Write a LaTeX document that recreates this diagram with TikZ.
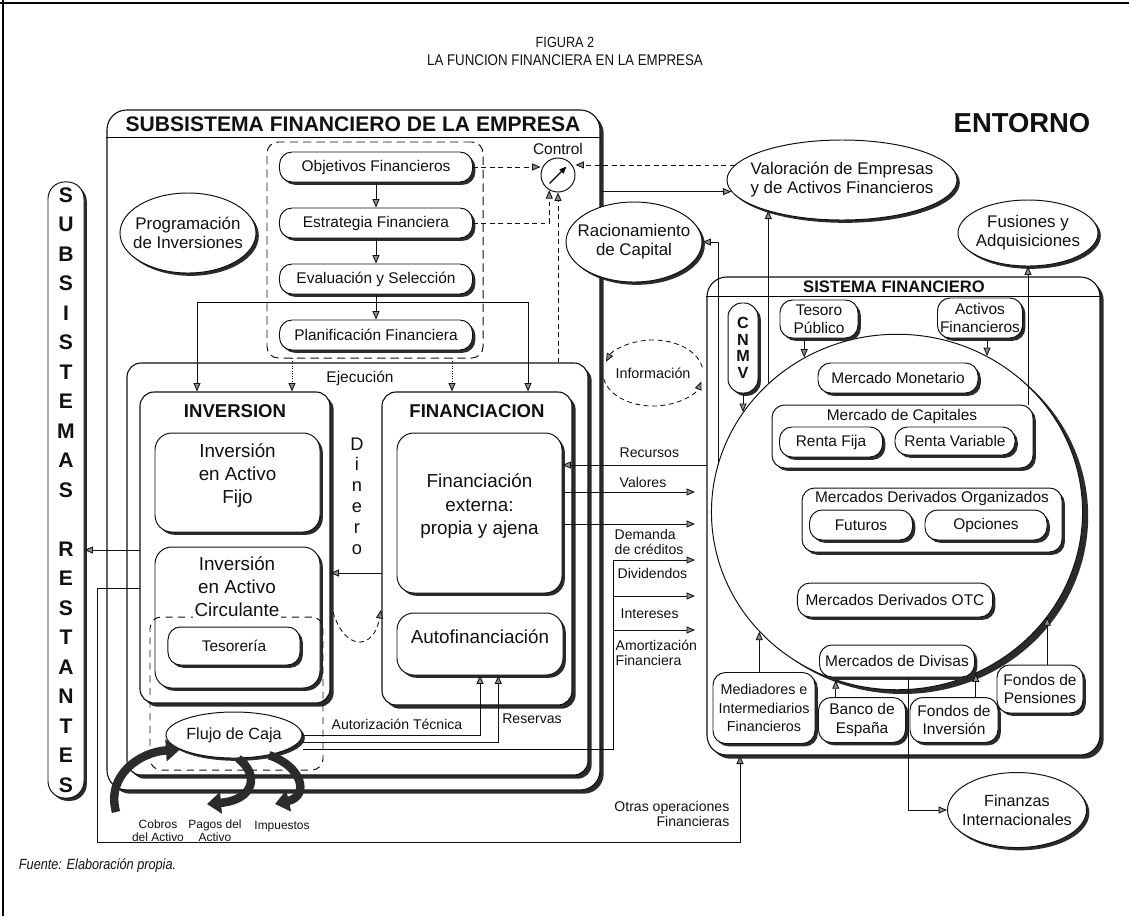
\documentclass[tikz,border=0pt]{standalone}
\usepackage{fontspec}
\setmainfont{Liberation Sans}
\newfontfamily\condfont[FakeStretch=0.86]{Liberation Sans}
\usepackage{tikz}
\usetikzlibrary{arrows.meta,shapes.geometric,positioning,fit,shadows,calc}
\definecolor{ink}{HTML}{111111}
\definecolor{shade}{HTML}{2B2B2B}
\definecolor{tipfill}{HTML}{8C8C8C}
\newcommand{\txtnorm}{\fontsize{11}{13}\selectfont}
\newcommand{\txtbig}{\fontsize{13.4}{16.4}\selectfont}
\newcommand{\txtoval}{\fontsize{12}{13.5}\selectfont}
\newcommand{\txtlbl}{\fontsize{10}{10.8}\selectfont}
\newcommand{\txtsmall}{\fontsize{8.5}{9}\selectfont}
\newcommand{\txtdin}{\fontsize{13}{14.8}\selectfont}
\newcommand{\txtsub}{\fontsize{15}{20.98}\selectfont}
\newcommand{\txtcnmv}{\fontsize{11.5}{11.8}\selectfont}
\newcommand{\txtmed}{\fontsize{10.2}{13}\selectfont}
\newcommand{\txtsf}{\fontsize{11.8}{13}\selectfont}
\newcommand{\txtinfo}{\fontsize{10.2}{12}\selectfont}
\tikzset{
  box_frame/.style={draw=ink,line width=0.8pt,fill=white,rounded corners=10pt,inner sep=0pt},
  frame_sh/.style={drop shadow={shadow xshift=2.6pt,shadow yshift=-2.6pt,fill=shade,opacity=1}},
  node_sh/.style={drop shadow={shadow xshift=2pt,shadow yshift=-2pt,fill=shade,opacity=1}},
  node_box/.style={draw=ink,line width=0.7pt,fill=white,rounded corners=9pt,
    align=center,font=\txtnorm,inner sep=1pt,node_sh},
  node_oval/.style={ellipse,draw=ink,line width=0.7pt,fill=white,align=center,
    font=\txtoval,inner xsep=-10pt,inner ysep=0pt,node_sh},
  dash_frame/.style={draw=ink,line width=0.7pt,dash pattern=on 6pt off 3.5pt,
    rounded corners=8pt,inner sep=0pt},
  title_txt/.style={font=\bfseries\fontsize{13.2}{15}\selectfont},
  lbl/.style={font=\txtlbl,inner sep=1pt},
  arr/.style={-{Triangle[length=6pt,width=5pt,fill=tipfill]},draw=ink,line width=0.6pt},
  arr_dash/.style={arr,dash pattern=on 3.5pt off 2.5pt},
  arr_dot/.style={arr,dash pattern=on 0.6pt off 1.2pt},
  fat_arr/.style={-{Triangle[length=10pt,width=15pt]},draw=shade,line width=6pt},
}
\begin{document}
\begin{tikzpicture}[x=0.025cm,y=-0.025cm,every node/.style={text=ink}]
\useasboundingbox (0,0) rectangle (1129,916);

% page rules and titles
\draw[line width=1.2pt] (0,3) -- (1129,3);
\draw[line width=0.8pt] (3,0) -- (3,916);
\node[font=\condfont\fontsize{10.5}{12}\selectfont] (fig) at (565,42) {FIGURA 2};
\node[font=\condfont\fontsize{11}{13}\selectfont] (tit) at (565,60) {LA FUNCION FINANCIERA EN LA EMPRESA};
\node[font=\condfont\itshape\fontsize{10.5}{12}\selectfont,anchor=west] (src) at (14,866) {Fuente: Elaboración propia.};
\node[font=\bfseries\fontsize{19.5}{22}\selectfont] (ent) at (1022,123) {ENTORNO};

% subsistema financiero
\node[box_frame,frame_sh,rounded corners=14pt,fit={(107,110) (600,790)}] (sub) {};
\draw[line width=0.8pt] ([yshift=-0.7cm]sub.north west) -- ([yshift=-0.7cm]sub.north east);
\node[font=\bfseries\fontsize{15}{17}\selectfont] (subt) at (353,124) {SUBSISTEMA FINANCIERO DE LA EMPRESA};

\node[dash_frame,fit={(267,142) (483,358)}] (plan) {};
\node[node_box,minimum width=4.825cm,minimum height=0.75cm] (obj) at (376,167) {Objetivos Financieros};
\node[node_box,minimum width=4.825cm,minimum height=0.75cm,below=0.625cm of obj] (est) {Estrategia Financiera};
\node[node_box,minimum width=4.825cm,minimum height=0.75cm,below=0.625cm of est] (eva) {Evaluación y Selección};
\node[node_box,minimum width=4.825cm,minimum height=0.75cm,below=0.625cm of eva] (pla) {Planificación Financiera};
\node[node_oval,minimum width=3.4cm,minimum height=2cm] (prog) at (188,233) {Programación\\de Inversiones};
\node[circle,draw=ink,line width=0.7pt,fill=white,minimum size=0.85cm,inner sep=0pt] (ctrl) at (558,175) {};
\node[font=\txtnorm] (ctrlt) at (558,149) {Control};

% ejecucion
\node[box_frame,frame_sh,fit={(127,363) (588,775)}] (eje) {};
\node[font=\txtnorm] (ejet) at (360,378) {Ejecución};
\node[box_frame,frame_sh,fit={(140,392) (330,703)}] (inv) {};
\node[title_txt] (invt) at (235,411) {INVERSION};
\node[box_frame,frame_sh,fit={(382,392) (572,705)}] (fin) {};
\node[title_txt] (fint) at (477,411) {FINANCIACION};

\node[node_box,inner sep=0pt,rounded corners=12pt,font=\txtbig,fit={(155,433) (320,532)}] (fijo) {Inversión\\en Activo\\Fijo};
\node[node_box,inner sep=0pt,rounded corners=12pt,fit={(155,547) (320,688)}] (circ) {};
\node[node_box,minimum width=3.3cm,minimum height=0.95cm] (teso) at (234,646) {Tesorería};
\node[dash_frame,dash pattern=on 5pt off 4pt,fit={(150,617) (323,770)}] (tesf) {};
\node[font=\txtbig,align=center,fill=white,inner sep=1pt] (circt) at (237,587) {Inversión\\en Activo\\Circulante};
\node[node_box,inner sep=0pt,rounded corners=12pt,font=\txtbig,fit={(397,433) (562,593)}] (fext) {Financiación\\externa:\\propia y ajena};
\node[node_box,inner sep=0pt,rounded corners=12pt,font=\txtbig,fit={(397,613) (563,675)}] (aut) {Autofinanciación};
\node[node_oval,font=\fontsize{11.5}{13}\selectfont,minimum width=3.4cm,minimum height=1.15cm] (flu) at (234,735) {Flujo de Caja};
\node[font=\txtdin,align=center] (din) at (357,496) {D\\i\\n\\e\\r\\o};

% subsistemas restantes
\node[node_box,rounded corners=12pt,minimum width=0.9cm,minimum height=15.4cm,inner sep=0pt,
  font=\bfseries\txtsub] (subr) at (66,490)
  {S\\U\\B\\S\\I\\S\\T\\E\\M\\A\\S\\[20.98pt]R\\E\\S\\T\\A\\N\\T\\E\\S};

% sistema financiero
\node[box_frame,frame_sh,rounded corners=14pt,fit={(707,277) (1100,755)}] (sf) {};
\draw[line width=0.8pt] ([yshift=-0.5cm]sf.north west) -- ([yshift=-0.5cm]sf.north east);
\node[font=\bfseries\txtsf] (sft) at (894,287) {SISTEMA FINANCIERO};
\node[ellipse,draw=ink,line width=0.7pt,fill=white,minimum width=9.275cm,minimum height=8.885cm,inner sep=0pt,
  drop shadow={shadow xshift=4pt,shadow yshift=-3pt,fill=shade,opacity=1}] (mkt) at (897,512) {};
\node[node_box,rounded corners=10pt,minimum width=0.75cm,minimum height=2.25cm,inner sep=0pt,
  font=\bfseries\txtcnmv] (cnmv) at (743,348) {C\\N\\M\\V};
\node[node_box,minimum width=1.95cm,minimum height=0.95cm] (tso) at (819,319) {Tesoro\\Público};
\node[node_box,minimum width=2.125cm,minimum height=1cm] (act) at (980,318) {Activos\\Financieros};
\node[node_box,minimum width=4cm,minimum height=0.75cm] (mon) at (898,378) {Mercado Monetario};
\node[node_box,inner sep=0pt,fit={(772,405) (1033,468)}] (cap) {};
\node[font=\txtnorm] (capt) at (902,416) {Mercado de Capitales};
\node[node_box,minimum width=2.575cm,minimum height=0.75cm] (rfi) at (831,442) {Renta Fija};
\node[node_box,minimum width=3cm,minimum height=0.7cm] (rva) at (955,441) {Renta Variable};
\node[node_box,inner sep=0pt,fit={(802,488) (1062,552)}] (mdo) {};
\node[font=\txtnorm] (mdot) at (932,498) {Mercados Derivados Organizados};
\node[node_box,minimum width=2.575cm,minimum height=0.75cm] (fut) at (861,525) {Futuros};
\node[node_box,minimum width=3.05cm,minimum height=0.75cm] (opc) at (986,525) {Opciones};
\node[node_box,minimum width=4.875cm,minimum height=0.85cm] (otc) at (895,600) {Mercados Derivados OTC};
\node[node_box,minimum width=3.875cm,minimum height=0.8cm] (dvs) at (897,661) {Mercados de Divisas};
\node[node_box,minimum width=2.55cm,minimum height=1.775cm,font=\txtmed] (med) at (764,708) {Mediadores e\\Intermediarios\\Financieros};
\node[node_box,minimum width=2.175cm,minimum height=1.125cm] (bde) at (862,720) {Banco de\\España};
\node[node_box,minimum width=2.2cm,minimum height=1.125cm] (fdi) at (954,720) {Fondos de\\Inversión};
\node[node_box,minimum width=2.15cm,minimum height=1.2cm] (fdp) at (1040,689) {Fondos de\\Pensiones};

% entorno
\node[node_oval,minimum width=5.75cm,minimum height=2cm] (val) at (842,180) {Valoración de Empresas\\y de Activos Financieros};
\node[node_oval,minimum width=3.4cm,minimum height=2cm] (rac) at (634,242) {Racionamiento\\de Capital};
\node[node_oval,minimum width=3.5cm,minimum height=1.65cm] (fus) at (1028,233) {Fusiones y\\Adquisiciones};
\node[node_oval,font=\fontsize{11.5}{13.5}\selectfont,minimum width=3.475cm,minimum height=1.875cm] (fiz) at (1017,810) {Finanzas\\Internacionales};
\node[ellipse,minimum width=2.5cm,minimum height=1.65cm,inner sep=0pt,font=\txtinfo] (info) at (653,373) {Información};

% planning flows
\draw[arr] (obj) -- (est);
\draw[arr] (est) -- (eva);
\draw[arr] (eva) -- (pla);
\coordinate (selL) at (197,302);
\coordinate (selR) at (528,302);
\draw[line width=0.6pt] (selL) -- (selR);
\draw[arr] (selL) -- (selL |- inv.north);
\draw[arr] (selR) -- (selR |- fin.north);
\coordinate (pdl) at (292,358);
\coordinate (pdr) at (452,358);
\draw[arr_dot] (pdl) -- (pdl |- inv.north);
\draw[arr_dot] (pdr) -- (pdr |- fin.north);

% control loop
\draw[arr_dash] (obj.east) -- (obj.east -| ctrl.west);
\draw[arr_dash] (est.east) -| (ctrl.240);
\draw[arr_dash] (ctrl.south |- eje.north) -- (ctrl.south);
\draw[arr_dash] (val.172) -- (val.172 -| ctrl.east);
\draw[arr] (val.186 -| sub.east) -- (val.186);
\draw[-{Triangle[length=5pt,width=4pt]},line width=0.9pt] ([shift={(-6pt,-6pt)}]ctrl.center) -- ([shift={(6pt,6pt)}]ctrl.center);

% informacion
\draw[arr_dash] (info.center) ++(10:1.25cm and 0.825cm) arc[start angle=10,end angle=160,x radius=1.25cm,y radius=0.825cm];
\draw[arr_dash] (info.center) ++(190:1.25cm and 0.825cm) arc[start angle=190,end angle=345,x radius=1.25cm,y radius=0.825cm];

% financial system flows
\coordinate (recS) at (707,465);
\coordinate (racJ) at (718,465);
\draw[arr] (recS) -- (recS -| fext.east);
\draw[arr] (racJ) |- (rac.east);
\draw[arr] (mkt.135) -- (mkt.135 |- val.202);
\draw[arr] (fus.south |- cap.north) -- (fus.south);
\draw[arr] (mkt.121 |- tso.south) -- (mkt.121);
\draw[arr] (mkt.60 |- act.south) -- (mkt.60);
\draw[arr] (mkt.147 |- cnmv.south) -- (mkt.147);
\draw[arr] (mkt.221 |- med.north) -- (mkt.221);
\draw[arr] (mkt.250 |- bde.north) -- (mkt.250);
\draw[arr] (mkt.296 |- fdi.north) -- (mkt.296);
\draw[arr] (mkt.325 |- fdp.north) -- (mkt.325);
\draw[arr] ([xshift=7.8pt]dvs.south) |- (fiz.west);

\coordinate (valE) at (695,492);
\coordinate (demE) at (695,524);
\draw[arr] (valE -| fext.east) -- (valE);
\draw[arr] (demE -| fext.east) -- (demE);

% cash flow
\draw[arr] (flu.east) -| (aut.south);
\draw[arr] ([yshift=-5pt]flu.east) -| ([xshift=13pt]aut.south);
\coordinate (trk) at (613,560);
\coordinate (dv1) at (695,560);
\coordinate (dv2) at (695,596);
\coordinate (dv3) at (695,630);
\draw[line width=0.6pt] ([yshift=-10pt]flu.east) -| (trk);
\draw[arr] (trk) -- (dv1);
\draw[arr] (trk |- dv2) -- (dv2);
\draw[arr] (trk |- dv3) -- (dv3);

\coordinate (dinS) at (382,573);
\draw[arr] (dinS) -- (dinS -| inv.east);
\coordinate (curA) at (333,612);
\coordinate (curB) at (381,610);
\draw[arr_dash] (curA) .. controls (345,652) and (374,650) .. (curB);

\coordinate (srA) at (140,550);
\draw[arr] (srA) -- (srA -| subr.east);
\coordinate (otA) at (140,588);
\coordinate (otB) at (97,842);
\coordinate (otC) at (740,842);
\draw[arr] (otA) -| (otB) -| (otC |- sf.south);

\coordinate (cobS) at (116,812);
\coordinate (pagT) at (207,804);
\coordinate (impT) at (275,804);
\draw[fat_arr] (cobS) .. controls (106,775) and (140,752) .. (flu.195);
\draw[fat_arr] (flu.280) .. controls (260,775) and (254,800) .. (pagT);
\draw[fat_arr] (flu.330) .. controls (302,766) and (310,796) .. (impT);

% labels
\node[font=\txtsmall,align=center] (cobL) at (158,831) {Cobros\\del Activo};
\node[font=\txtsmall,align=center] (pagL) at (215,831) {Pagos del\\Activo};
\node[font=\txtsmall] (impL) at (282,827) {Impuestos};
\node[lbl,anchor=west] (recL) at (618,453) {Recursos};
\node[lbl,anchor=west] (valL) at (618,482) {Valores};
\node[lbl,anchor=west,align=left] (demL) at (613,542) {Demanda\\de créditos};
\node[lbl,anchor=west] (divL) at (616,573) {Dividendos};
\node[lbl,anchor=west] (intL) at (619,614) {Intereses};
\node[lbl,anchor=west,align=left] (amoL) at (614,653) {Amortización\\Financiera};
\node[lbl] (autL) at (397,724) {Autorización Técnica};
\node[lbl] (resL) at (532,719) {Reservas};
\node[lbl,anchor=east,align=right] (otrL) at (731,814) {Otras operaciones\\Financieras};
\end{tikzpicture}
\end{document}
